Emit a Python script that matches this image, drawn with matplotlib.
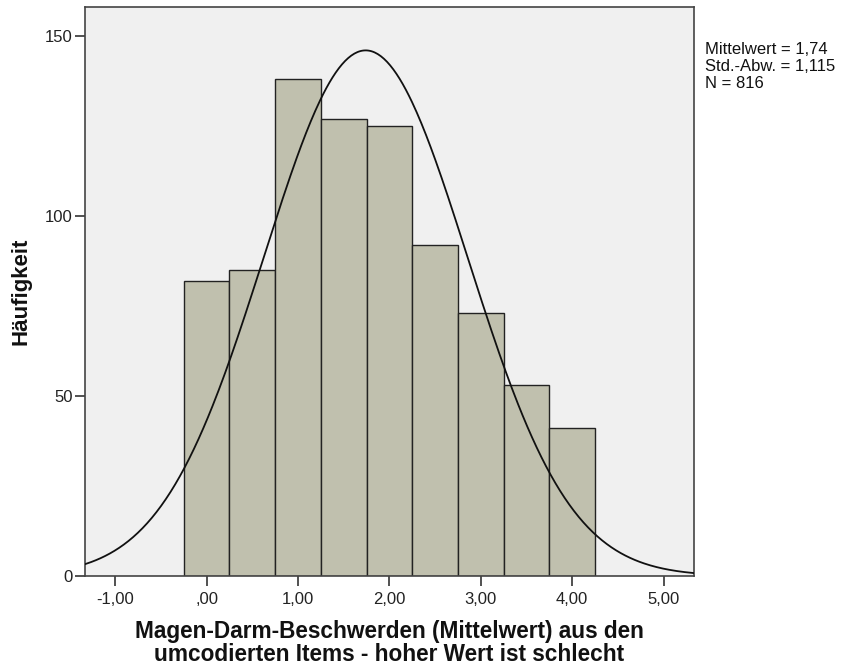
import matplotlib
matplotlib.use('Agg')
import matplotlib.pyplot as plt
import numpy as np

# Klassenmitten und Häufigkeiten
bin_centers = [0.0, 0.5, 1.0, 1.5, 2.0, 2.5, 3.0, 3.5, 4.0]
counts = [82, 85, 138, 127, 125, 92, 73, 53, 41]
bin_width = 0.5

mean = 1.74
sd = 1.115
n = 816

x_ticks = [-1, 0, 1, 2, 3, 4, 5]
x_labels = ['-1,00', ',00', '1,00', '2,00', '3,00', '4,00', '5,00']
y_ticks = [0, 50, 100, 150]

fig = plt.figure(figsize=(8.42, 6.67), dpi=100)
ax = fig.add_axes([0.101, 0.1364, 0.723, 0.8524])
ax.set_facecolor('#f0f0f0')

ax.bar(bin_centers, counts, width=bin_width, color='#c0c0ae',
       edgecolor='#222222', linewidth=1.0, zorder=2)

# Normalverteilungskurve, skaliert auf N * Klassenbreite
xs = np.linspace(-1.4, 5.4, 400)
ys = n * bin_width / (sd * np.sqrt(2 * np.pi)) * np.exp(-0.5 * ((xs - mean) / sd) ** 2)
ax.plot(xs, ys, color='#111111', linewidth=1.3, zorder=3)

ax.set_xlim(-1.33, 5.33)
ax.set_ylim(0, 157.9)
ax.set_xticks(x_ticks)
ax.set_xticklabels(x_labels)
ax.set_yticks(y_ticks)
ax.tick_params(axis='both', length=7.5, width=1.2, color='#333333',
               labelsize=12, labelcolor='#222222')
ax.tick_params(axis='x', pad=4)
ax.tick_params(axis='y', pad=1.5)
for lab in ax.get_xticklabels() + ax.get_yticklabels():
    lab.set_family('Liberation Sans')
for sp in ax.spines.values():
    sp.set_color('#444444')
    sp.set_linewidth(1.2)

ax.set_xlabel('Magen-Darm-Beschwerden (Mittelwert) aus den\numcodierten Items - hoher Wert ist schlecht',
              family='Liberation Sans', fontweight='bold', fontsize=16.3, linespacing=1.0,
              labelpad=9.5, color='#111111')
fig.text(21 / 842, 1 - 291 / 667, 'Häufigkeit', family='Liberation Sans',
         fontweight='bold', fontsize=16, rotation=90, ha='center', va='center',
         color='#111111')

fig.text(0.837, 0.937, 'Mittelwert = 1,74\nStd.-Abw. = 1,115\nN = 816',
         family='Liberation Sans', fontsize=12, va='top', ha='left',
         linespacing=1.18, color='#111111')

fig.savefig('out.png', dpi=100)
